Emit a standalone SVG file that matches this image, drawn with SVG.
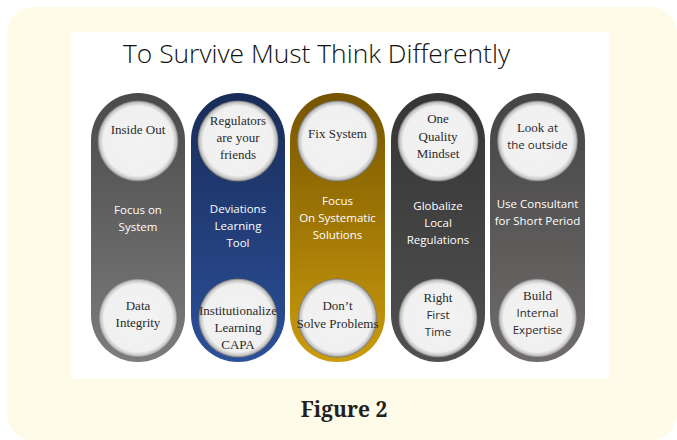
<svg xmlns="http://www.w3.org/2000/svg" width="677" height="440" viewBox="0 0 677 440">
<defs>
<linearGradient id="g1" x1="0" y1="0" x2="0" y2="1"><stop offset="0" stop-color="#4a4a4a"/><stop offset="1" stop-color="#7c7c7c"/></linearGradient>
<linearGradient id="g2" x1="0" y1="0" x2="0" y2="1"><stop offset="0" stop-color="#192c58"/><stop offset="1" stop-color="#2c509a"/></linearGradient>
<linearGradient id="g3" x1="0" y1="0" x2="0" y2="1"><stop offset="0" stop-color="#765400"/><stop offset="1" stop-color="#cc9c0c"/></linearGradient>
<linearGradient id="g4" x1="0" y1="0" x2="0" y2="1"><stop offset="0" stop-color="#353535"/><stop offset="1" stop-color="#505050"/></linearGradient>
<linearGradient id="g5" x1="0" y1="0" x2="0" y2="1"><stop offset="0" stop-color="#444444"/><stop offset="1" stop-color="#716c6c"/></linearGradient>
<radialGradient id="cg" cx="0.5" cy="0.5" r="0.5"><stop offset="0" stop-color="#f3f3f3"/><stop offset="0.86" stop-color="#f0f0f0"/><stop offset="0.95" stop-color="#c4c4c4"/><stop offset="1" stop-color="#707070"/></radialGradient>
</defs>
<style>
.c{fill:url(#cg)}
.s{font-family:"Liberation Serif","Times New Roman",serif;font-size:13px;fill:#2a2a2a;text-anchor:middle}
.a{font-family:"Open Sans","Liberation Sans",sans-serif;font-size:11.5px;fill:#ffffff;text-anchor:middle}
.k{font-family:"Open Sans","Liberation Sans",sans-serif;font-size:11.5px;fill:#2a2a2a}
</style>
<rect x="0" y="0" width="677" height="440" fill="#ffffff"/>
<rect x="7" y="7" width="670" height="433" rx="26" fill="#fffbe9"/>
<rect x="71" y="32" width="538" height="347" fill="#ffffff"/>
<text x="123" y="63" font-family="'Open Sans','Liberation Sans',sans-serif" font-weight="300" font-size="26" fill="#111" textLength="387" lengthAdjust="spacingAndGlyphs">To Survive Must Think Differently</text>

<g id="pill1">
<rect x="91" y="93" width="94" height="269" rx="47" fill="url(#g1)"/>
<circle class="c" cx="138" cy="141" r="40.5"/>
<circle class="c" cx="138" cy="318" r="39.5"/>
<text class="s" x="138" y="134">Inside Out</text>
<text class="a" x="138" y="214">Focus on</text>
<text class="a" x="138" y="231">System</text>
<text class="s" x="138" y="310">Data</text>
<text class="s" x="138" y="327">Integrity</text>
</g>

<g id="pill2">
<rect x="191" y="93" width="94" height="269" rx="47" fill="url(#g2)"/>
<circle class="c" cx="238" cy="141" r="40.5"/>
<circle class="c" cx="238" cy="318" r="39.5"/>
<text class="s" x="238" y="125">Regulators</text>
<text class="s" x="238" y="142">are your</text>
<text class="s" x="238" y="159">friends</text>
<text class="a" x="238" y="213">Deviations</text>
<text class="a" x="238" y="230">Learning</text>
<text class="a" x="238" y="247">Tool</text>
<text class="s" x="238" y="315">Institutionalize</text>
<text class="s" x="238" y="332">Learning</text>
<text class="s" x="238" y="349">CAPA</text>
</g>

<g id="pill3">
<rect x="290" y="93" width="95" height="269" rx="47" fill="url(#g3)"/>
<circle class="c" cx="337.5" cy="141" r="40.5"/>
<circle class="c" cx="337.5" cy="318" r="39.5"/>
<text class="s" x="337.5" y="138">Fix System</text>
<text class="a" x="337.5" y="205">Focus</text>
<text class="a" x="337.5" y="222">On Systematic</text>
<text class="a" x="337.5" y="239">Solutions</text>
<text class="s" x="337.5" y="310">Don’t</text>
<text class="s" x="337.5" y="328">Solve Problems</text>
</g>

<g id="pill4">
<rect x="391" y="93" width="94" height="269" rx="47" fill="url(#g4)"/>
<circle class="c" cx="438" cy="141" r="40.5"/>
<circle class="c" cx="438" cy="318" r="39.5"/>
<text class="s" x="438" y="123">One</text>
<text class="s" x="438" y="141">Quality</text>
<text class="s" x="438" y="158">Mindset</text>
<text class="a" x="438" y="210">Globalize</text>
<text class="a" x="438" y="227">Local</text>
<text class="a" x="438" y="244">Regulations</text>
<text class="s" x="438" y="302">Right</text>
<text class="a" x="438" y="319" style="fill:#2a2a2a">First</text>
<text class="a" x="438" y="336" style="fill:#2a2a2a">Time</text>
</g>

<g id="pill5">
<rect x="490" y="93" width="95" height="269" rx="47" fill="url(#g5)"/>
<circle class="c" cx="537.5" cy="141" r="40.5"/>
<circle class="c" cx="537.5" cy="318" r="39.5"/>
<text class="s" x="537.5" y="132">Look <tspan class="k">at</tspan></text>
<text class="a" x="537.5" y="149" style="fill:#2a2a2a">the outside</text>
<text class="a" x="537.5" y="208">Use Consultant</text>
<text class="a" x="537.5" y="225">for Short Period</text>
<text class="s" x="537.5" y="300">Build</text>
<text class="a" x="537.5" y="317" style="fill:#2a2a2a">Internal</text>
<text class="a" x="537.5" y="334" style="fill:#2a2a2a">Expertise</text>
</g>

<text x="344" y="417" font-family="'Noto Serif','DejaVu Serif','Liberation Serif',serif" font-weight="bold" font-size="21" fill="#231f20" text-anchor="middle">Figure 2</text>
</svg>
